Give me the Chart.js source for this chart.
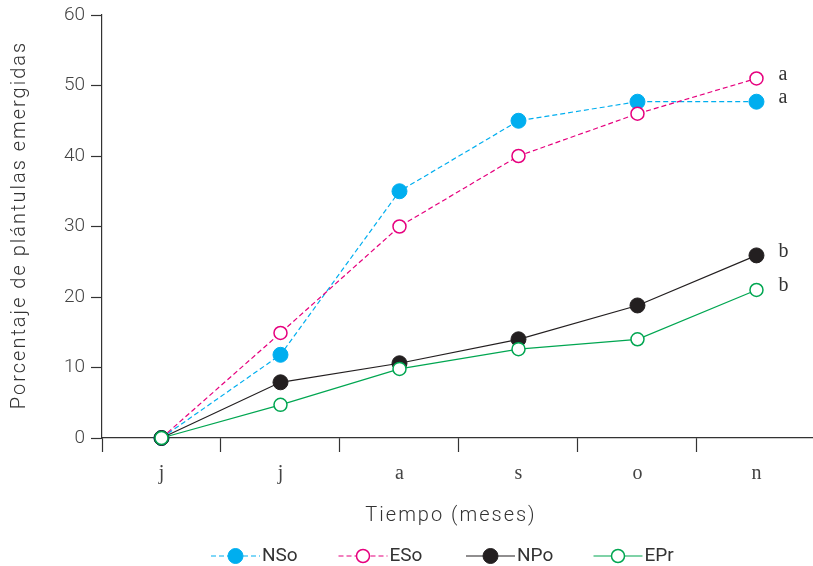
<!DOCTYPE html>
<html>
<head>
<meta charset="utf-8">
<script src="https://cdn.jsdelivr.net/npm/chart.js@4.4.1/dist/chart.umd.min.js"></script>
<style>
html, body { margin: 0; padding: 0; background: #fff; }
#contenedor { width: 813px; height: 566px; }
</style>
</head>
<body>
<div id="contenedor"><canvas id="grafico" width="813" height="566"></canvas></div>
<script>
// Datos
const meses = ['j', 'j', 'a', 's', 'o', 'n'];
const ticksY = [0, 10, 20, 30, 40, 50, 60];
const nombres = ['NSo', 'ESo', 'NPo', 'EPr'];
const valoresNSo = [0, 11.8, 35, 45, 47.7, 47.7];
const valoresESo = [0, 14.9, 30, 40, 46, 51];
const valoresNPo = [0, 7.9, 10.6, 14, 18.8, 25.9];
const valoresEPr = [0, 4.7, 9.8, 12.6, 14, 21];
const letras = ['a', 'a', 'b', 'b'];
const tituloX = 'Tiempo (meses)';
const tituloY = 'Porcentaje de plántulas emergidas';

const fuenteSans = 'Roboto';
const fuenteSerif = 'Liberation Serif';

function serie(nombre, valores, color, relleno, guiones, orden) {
    return {
        label: nombre,
        data: valores.map((v, i) => ({ x: i, y: v })),
        borderColor: color,
        borderWidth: 1.2,
        borderDash: guiones,
        pointRadius: relleno === '#fff' ? 6.5 : 7.5,
        pointBorderWidth: relleno === '#fff' ? 1.5 : 1,
        pointBackgroundColor: relleno,
        pointBorderColor: color,
        order: orden,
        tension: 0,
        fill: false,
        clip: false
    };
}

// títulos con espaciado, letras de significancia y leyenda con línea + marcador
const extras = {
    id: 'extras',
    afterDraw(chart) {
        const ctx = chart.ctx;
        const ejeX = chart.scales.x;
        const ejeY = chart.scales.y;
        ctx.save();
        ctx.fillStyle = '#333';
        ctx.textBaseline = 'middle';
        ctx.textAlign = 'center';
        ctx.font = '300 20px "' + fuenteSans + '"';
        ctx.letterSpacing = '2px';
        ctx.fillText(tituloX, 451, 516);
        ctx.save();
        ctx.translate(20, 226);
        ctx.rotate(-Math.PI / 2);
        ctx.fillText(tituloY, 1, 0);
        ctx.restore();
        ctx.letterSpacing = '0px';

        ctx.font = '20px "' + fuenteSerif + '"';
        ctx.textAlign = 'left';
        chart.data.datasets.forEach((ds, i) => {
            const ultimo = ds.data[ds.data.length - 1];
            ctx.fillText(letras[i], ejeX.getPixelForValue(ultimo.x) + 22, ejeY.getPixelForValue(ultimo.y) - 4);
        });

        const yLeyenda = 556;
        ctx.font = '19px "' + fuenteSans + '"';
        chart.data.datasets.forEach((ds, i) => {
            const x0 = 211 + i * 127.5;
            ctx.strokeStyle = ds.borderColor;
            ctx.lineWidth = ds.borderWidth;
            ctx.setLineDash(ds.borderDash);
            ctx.beginPath();
            ctx.moveTo(x0, yLeyenda);
            ctx.lineTo(x0 + 49, yLeyenda);
            ctx.stroke();
            ctx.setLineDash([]);
            ctx.beginPath();
            ctx.arc(x0 + 24.5, yLeyenda, ds.pointRadius, 0, Math.PI * 2);
            ctx.fillStyle = ds.pointBackgroundColor;
            ctx.fill();
            ctx.lineWidth = ds.pointBorderWidth;
            ctx.strokeStyle = ds.pointBorderColor;
            ctx.stroke();
            ctx.fillStyle = '#333';
            ctx.fillText(ds.label, x0 + 51, yLeyenda);
        });
        ctx.restore();
    }
};

const posicionesX = [];
meses.forEach((m, i) => { posicionesX.push(i - 0.5, i); });

new Chart(document.getElementById('grafico'), {
    type: 'line',
    data: {
        datasets: [
            serie(nombres[0], valoresNSo, '#00AEEF', '#00AEEF', [5, 3], 4),
            serie(nombres[1], valoresESo, '#E6007E', '#fff', [5, 3], 3),
            serie(nombres[2], valoresNPo, '#231F20', '#231F20', [], 2),
            serie(nombres[3], valoresEPr, '#00A651', '#fff', [], 1)
        ]
    },
    options: {
        responsive: false,
        animation: false,
        devicePixelRatio: 1,
        layout: { autoPadding: false, padding: { top: 15, right: 0, left: 0, bottom: 0 } },
        plugins: {
            legend: { display: false },
            tooltip: { enabled: false }
        },
        scales: {
            x: {
                type: 'linear',
                min: -0.5,
                max: 5.475,
                afterBuildTicks: eje => { eje.ticks = posicionesX.map(v => ({ value: v })); },
                afterFit: eje => {
                    eje.height = 128;
                    eje.paddingLeft = 0;
                    eje.paddingRight = 0;
                },
                border: { color: '#333', width: 1.2 },
                grid: {
                    drawOnChartArea: false,
                    tickLength: 14,
                    tickWidth: 1.2,
                    tickColor: c => Number.isInteger(c.tick.value) ? 'rgba(0,0,0,0)' : '#333'
                },
                ticks: {
                    autoSkip: false,
                    maxRotation: 0,
                    padding: 10,
                    color: '#444',
                    font: { family: fuenteSerif, size: 20 },
                    callback: v => Number.isInteger(v) ? meses[v] : ''
                }
            },
            y: {
                min: 0,
                max: 60,
                afterBuildTicks: eje => { eje.ticks = ticksY.map(v => ({ value: v })); },
                afterFit: eje => {
                    eje.width = 102;
                    eje.paddingTop = 0;
                    eje.paddingBottom = 0;
                },
                border: { color: '#333', width: 1.2 },
                grid: { drawOnChartArea: false, tickLength: 11, tickWidth: 1.2, tickColor: '#333' },
                ticks: {
                    padding: 6,
                    color: '#444',
                    font: { family: fuenteSans, size: 19, weight: 300 }
                }
            }
        }
    },
    plugins: [extras]
});
</script>
</body>
</html>
